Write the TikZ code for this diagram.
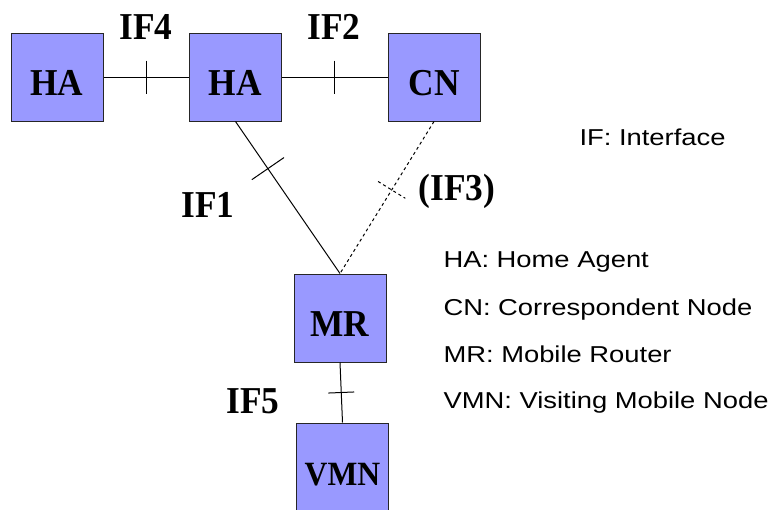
\documentclass[tikz,border=0pt]{standalone}
\usepackage{fontspec}
\setmainfont{Liberation Serif}[FakeStretch=0.93]
\newfontfamily\legendfont{Liberation Sans}[FakeStretch=1.19]
\definecolor{boxblue}{RGB}{153,153,255}
\tikzset{
  unit/.style={draw=black!85, fill=boxblue, line width=1pt, minimum width=92, minimum height=88, inner sep=0pt,
    text height=36, text depth=0, font=\fontsize{38}{38}\selectfont\bfseries},
  iflabel/.style={anchor=base, inner sep=0pt, font=\fontsize{38}{38}\selectfont\bfseries},
  tick/.style={sloped, inner sep=0pt, minimum width=0pt, minimum height=#1},
  legend/.style={anchor=base west, inner sep=0pt, font=\legendfont\fontsize{23}{23}\selectfont}
}
\begin{document}
\begin{tikzpicture}[x=1pt,y=-1pt,line width=1pt]
	\useasboundingbox (0,0) rectangle (778,509);
	\node[unit] (ha1) at (57,77) {HA}; \node[unit] (ha2) at (235.5,77) {HA}; \node[unit] (cn) at (434,77) {CN};
	\node[unit] (mr) at (340,318) {MR}; \node[unit, font=\fontsize{34}{34}\selectfont\bfseries] (vmn) at (342.5,467) {VMN};
	\draw (ha1) -- (ha2) node[midway, tick=32] (t4) {};
	\draw (ha2) -- (cn) node[midway, tick=32] (t2) {};
	\draw (ha2.south) -- (mr.north) node[pos=0.31, tick=38] (t1) {};
	\draw[dash pattern=on 3pt off 3pt] (cn.south) -- (mr.north) node[pos=0.45, tick=31] (t3) {};
	\draw (mr.south) -- (vmn.north) node[midway, tick=25] (t5) {};
	\foreach \t in {t4,t2,t1,t5} \draw (\t.north) -- (\t.south);
	\draw[dash pattern=on 3pt off 3pt] (t3.north) -- (t3.south);
	\node[iflabel] (if4) at (146,39) {IF4}; \node[iflabel] (if2) at (334,39) {IF2};
	\node[iflabel] (if1) at (208,217) {IF1}; \node[iflabel] (if3) at (457,200) {(IF3)};
	\node[iflabel] (if5) at (253,413) {IF5};
	\node[legend] (leg0) at (579,145) {IF: Interface};
	\foreach \y/\txt [count=\n] in {267/HA: Home Agent, 315/CN: Correspondent Node, 362/MR: Mobile Router, 408/VMN: Visiting Mobile Node}
		\node[legend] (leg\n) at (443,\y) {\txt};
\end{tikzpicture}
\end{document}
